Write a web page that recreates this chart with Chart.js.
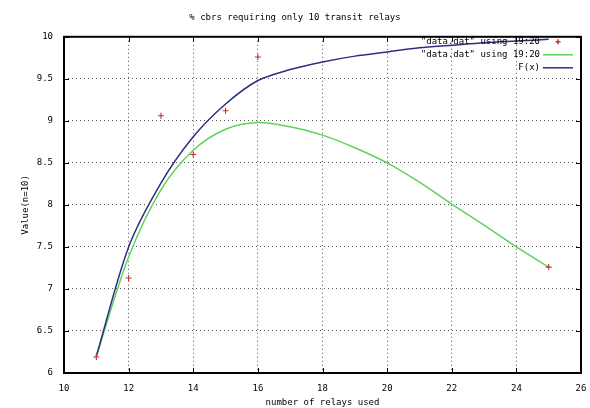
<!DOCTYPE html>
<html lang="en">
<head>
<meta charset="UTF-8">
<title>% cbrs requiring only 10 transit relays</title>
<script src="https://cdn.jsdelivr.net/npm/chart.js"></script>
<style>
  html, body { margin: 0; padding: 0; background: #fff; }
  #wrap { width: 590px; height: 408px; }
</style>
</head>
<body>
<div id="wrap"><canvas id="chart"></canvas></div>
<script>
// measured points
const relaysUsed = [11, 12, 13, 14, 15, 16, 25];
const measured = [6.19, 7.13, 9.06, 8.6, 9.12, 9.76, 7.26];

// smoothed curve and fitted F(x) at each integer x
const curveX = [11, 12, 13, 14, 15, 16, 17, 18, 19, 20, 21, 22, 23, 24, 25];
const smoothY = [6.2, 7.38, 8.18, 8.65, 8.9, 8.98, 8.93, 8.83, 8.68, 8.5, 8.27, 8.01, 7.76, 7.5, 7.26];
const fitY = [6.2, 7.5, 8.26, 8.81, 9.2, 9.48, 9.61, 9.7, 9.77, 9.82, 9.87, 9.9, 9.93, 9.95, 9.97];

const xTicks = [10, 12, 14, 16, 18, 20, 22, 24, 26];
const yTicks = [6, 6.5, 7, 7.5, 8, 8.5, 9, 9.5, 10];

const seriesLabels = ['"data.dat" using 19:20', '"data.dat" using 19:20', 'F(x)'];
const FONT = 'DejaVu Sans Mono';
const FSIZE = 9;

function pairs(xs, ys) {
    return xs.map((x, i) => ({ x: x, y: ys[i] }));
}

// gnuplot-ish frame, inner ticks and legend inside the plot
const gnuplotFrame = {
    id: 'gnuplotFrame',
    afterDatasetsDraw(chart) {
        const { ctx, chartArea: a, scales } = chart;
        ctx.save();
        ctx.strokeStyle = '#000';
        ctx.lineWidth = 1;
        ctx.beginPath();
        xTicks.forEach(v => {
            const px = Math.round(scales.x.getPixelForValue(v)) + 0.5;
            ctx.moveTo(px, a.bottom); ctx.lineTo(px, a.bottom - 5);
            ctx.moveTo(px, a.top); ctx.lineTo(px, a.top + 5);
        });
        yTicks.forEach(v => {
            const py = Math.round(scales.y.getPixelForValue(v)) + 0.5;
            ctx.moveTo(a.left, py); ctx.lineTo(a.left + 5, py);
            ctx.moveTo(a.right, py); ctx.lineTo(a.right - 5, py);
        });
        ctx.stroke();
        ctx.lineWidth = 2;
        ctx.strokeRect(a.left, a.top, a.right - a.left, a.bottom - a.top);

        // legend
        ctx.font = FSIZE + 'px "' + FONT + '"';
        ctx.fillStyle = '#000';
        ctx.textAlign = 'right';
        ctx.textBaseline = 'middle';
        const tx = a.right - 41;
        const sx0 = a.right - 38, sx1 = a.right - 8;
        chart.data.datasets.forEach((ds, i) => {
            const y = a.top + 5 + i * 13;
            ctx.fillText(seriesLabels[i], tx, y);
            ctx.strokeStyle = ds.borderColor;
            ctx.lineWidth = 1.5;
            ctx.beginPath();
            if (i === 0) {
                const cx = (sx0 + sx1) / 2;
                ctx.moveTo(cx - 2.5, y); ctx.lineTo(cx + 2.5, y);
                ctx.moveTo(cx, y - 2.5); ctx.lineTo(cx, y + 2.5);
            } else {
                ctx.moveTo(sx0, y); ctx.lineTo(sx1, y);
            }
            ctx.stroke();
        });
        ctx.restore();
    }
};

new Chart(document.getElementById('chart'), {
    type: 'scatter',
    data: {
        datasets: [
            {
                label: seriesLabels[0],
                data: pairs(relaysUsed, measured),
                borderColor: '#c03030',
                backgroundColor: '#c03030',
                pointStyle: 'cross',
                pointRadius: 3,
                pointBorderWidth: 1.1,
                showLine: false,
                order: 0
            },
            {
                label: seriesLabels[1],
                data: pairs(curveX, smoothY),
                borderColor: '#5cd35c',
                backgroundColor: '#5cd35c',
                borderWidth: 1.5,
                pointRadius: 0,
                showLine: true,
                tension: 0.3,
                order: 2
            },
            {
                label: seriesLabels[2],
                data: pairs(curveX, fitY),
                borderColor: '#2e2e80',
                backgroundColor: '#2e2e80',
                borderWidth: 1.5,
                pointRadius: 0,
                showLine: true,
                tension: 0.3,
                order: 1
            }
        ]
    },
    options: {
        responsive: true,
        maintainAspectRatio: false,
        animation: false,
        layout: { padding: { left: 0, right: 0, top: 0, bottom: 0 } },
        plugins: {
            legend: { display: false },
            tooltip: { enabled: false },
            title: {
                display: true,
                text: '% cbrs requiring only 10 transit relays',
                color: '#000',
                font: { family: FONT, size: FSIZE, weight: 'normal' },
                padding: { top: 12, bottom: 14 }
            }
        },
        scales: {
            x: {
                type: 'linear',
                min: 10,
                max: 26,
                afterBuildTicks: s => { s.ticks = xTicks.map(v => ({ value: v })); },
                afterFit: s => { s.height = 35; s.paddingRight = 9; s.paddingLeft = 0; },
                grid: {
                    color: '#555',
                    drawTicks: false
                },
                border: { display: false, dash: [1, 3] },
                ticks: {
                    color: '#000',
                    padding: 10,
                    font: { family: FONT, size: FSIZE },
                    callback: v => String(v)
                },
                title: {
                    display: true,
                    text: 'number of relays used',
                    color: '#000',
                    font: { family: FONT, size: FSIZE },
                    padding: { top: 0, bottom: 0 }
                }
            },
            y: {
                type: 'linear',
                min: 6,
                max: 10,
                afterBuildTicks: s => { s.ticks = yTicks.map(v => ({ value: v })); },
                afterFit: s => { s.width = 64; },
                grid: {
                    color: '#555',
                    drawTicks: false
                },
                border: { display: false, dash: [1, 3] },
                ticks: {
                    color: '#000',
                    padding: 11,
                    font: { family: FONT, size: FSIZE },
                    callback: v => String(v)
                },
                title: {
                    display: true,
                    text: 'Value(n=10)',
                    color: '#000',
                    font: { family: FONT, size: FSIZE },
                    padding: { top: 20, bottom: 0 }
                }
            }
        }
    },
    plugins: [gnuplotFrame]
});
</script>
</body>
</html>
